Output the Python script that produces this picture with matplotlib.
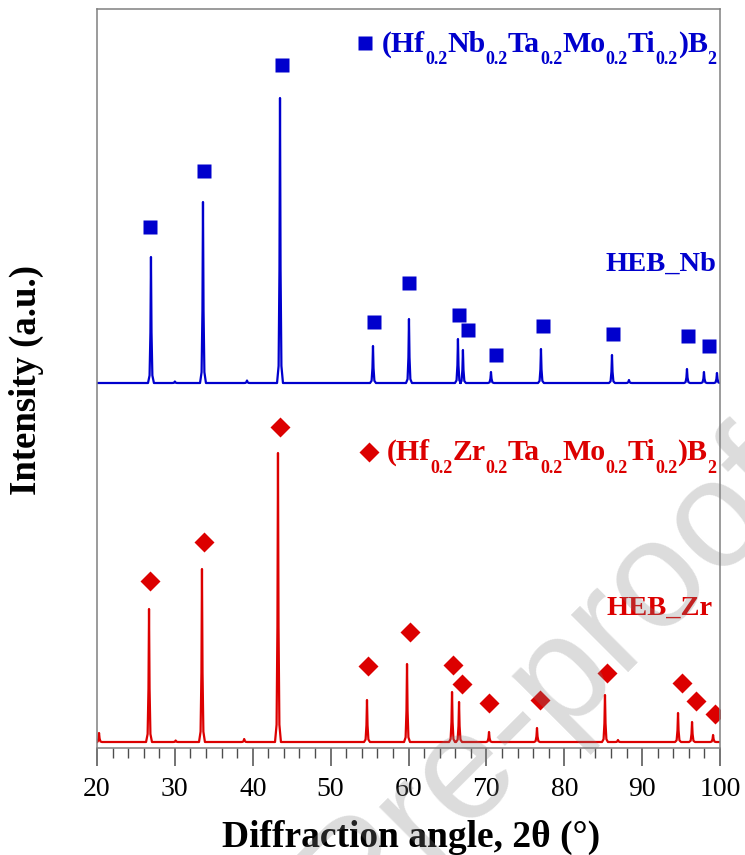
import matplotlib
matplotlib.use("Agg")
import matplotlib.pyplot as plt
from matplotlib.ticker import MultipleLocator
from matplotlib.transforms import offset_copy

# XRD peaks: 2theta (deg) and height above baseline (a.u.)
nb_peak_2theta = [26.93, 30.0, 33.61, 39.26, 43.50, 55.44, 60.06, 66.35, 66.99,
                  70.59, 77.01, 86.13, 88.31, 95.76, 97.94, 99.61]
nb_peak_height = [126, 1.5, 181, 2.5, 285, 37, 64, 44, 33,
                  11, 34, 28, 3, 14, 11, 10]

zr_peak_2theta = [20.26, 26.68, 30.1, 33.48, 38.9, 43.24, 54.67, 59.81, 65.59,
                  66.49, 70.34, 76.50, 85.23, 86.9, 94.61, 96.41, 99.11]
zr_peak_height = [9, 133, 1.5, 173, 3, 289, 42, 78, 50,
                  40, 10, 14, 47, 2, 29, 20, 7]

# phase markers (2theta, intensity)
nb_mark_2theta = [26.81, 33.74, 43.76, 55.57, 60.06, 66.48, 67.64, 71.24, 77.27, 86.26, 95.89, 98.58]
nb_mark_y = [521, 577, 683, 426, 465, 433, 418, 393, 422, 414, 412, 402]
zr_mark_2theta = [26.81, 33.74, 43.50, 54.80, 60.19, 65.71, 66.87, 70.34, 76.89, 85.49, 95.12, 96.92, 99.36]
zr_mark_y = [167, 206, 321, 82, 116, 83, 64, 45, 48, 75, 65, 47, 34]

# phase names as (text, is_subscript) pieces
nb_phase = [("(Hf", 0), ("0.2", 1), ("Nb", 0), ("0.2", 1), ("Ta", 0), ("0.2", 1),
            ("Mo", 0), ("0.2", 1), ("Ti", 0), ("0.2", 1), (")B", 0), ("2", 1)]
zr_phase = [("(Hf", 0), ("0.2", 1), ("Zr", 0), ("0.2", 1), ("Ta", 0), ("0.2", 1),
            ("Mo", 0), ("0.2", 1), ("Ti", 0), ("0.2", 1), (")B", 0), ("2", 1)]

nb_offset = 365
zr_offset = 6

BLUE = "#0000CD"
RED = "#DC0000"

plt.rcParams["font.family"] = ["Liberation Serif", "DejaVu Serif"]

# narrow peak profile (offset in deg, fraction of height)
shape_dx = [-0.38, -0.18, -0.07, 0.0, 0.07, 0.18, 0.38]
shape_f = [0.0, 0.06, 0.4, 1.0, 0.4, 0.06, 0.0]


def trace(pos, height, base):
    xs, ys = [20.0], [base]
    for c, h in sorted(zip(pos, height)):
        for dx, f in zip(shape_dx, shape_f):
            xs.append(c + dx)
            ys.append(base + f * h)
    xs.append(100.0)
    ys.append(base)
    return xs, ys


def formula(ax, x, y, pieces, color):
    renderer = ax.figure.canvas.get_renderer()
    shift = 0.0
    for s, sub in pieces:
        tr = offset_copy(ax.transData, fig=ax.figure, x=shift, y=-9 if sub else 0, units="points")
        t = ax.text(x, y, s, transform=tr, fontsize=13 if sub else 21.5,
                    fontweight="bold", color=color, ha="left", va="baseline")
        shift += t.get_window_extent(renderer).width * 72 / ax.figure.dpi


fig = plt.figure(figsize=(7.45, 8.55), dpi=100)
ax = fig.add_axes([97 / 745, 1 - 748 / 855, 623 / 745, 739 / 855])

x, y = trace(nb_peak_2theta, nb_peak_height, nb_offset)
ax.plot(x, y, color=BLUE, lw=1.6)
x, y = trace(zr_peak_2theta, zr_peak_height, zr_offset)
ax.plot(x, y, color=RED, lw=1.6)

ax.plot(nb_mark_2theta, nb_mark_y, "s", color=BLUE, ms=10.5, mec="none")
ax.plot(zr_mark_2theta, zr_mark_y, "D", color=RED, ms=10.5, mec="none")

# in-plot labels
ax.plot([54.41], [705], "s", color=BLUE, ms=10.5, mec="none")
formula(ax, 56.6, 696, nb_phase, BLUE)
ax.plot([54.93], [296], "D", color=RED, ms=10.5, mec="none")
formula(ax, 57.24, 288, zr_phase, RED)
ax.text(99.5, 477, "HEB_Nb", color=BLUE, fontsize=20.5, fontweight="bold",
        ha="right", va="baseline")
ax.text(99.1, 133, "HEB_Zr", color=RED, fontsize=20.5, fontweight="bold",
        ha="right", va="baseline")

ax.set_xlim(20, 100)
ax.set_ylim(0, 739)
ax.xaxis.set_major_locator(MultipleLocator(10))
ax.xaxis.set_minor_locator(MultipleLocator(2))
ax.tick_params(axis="x", which="major", direction="out", length=13, width=1.1,
               color="0.3", labelsize=20, pad=8)
ax.tick_params(axis="x", which="minor", direction="out", length=7, width=1.0, color="0.3")
ax.tick_params(axis="y", left=False, labelleft=False)
for sp in ax.spines.values():
    sp.set_color("0.5")
    sp.set_linewidth(1.1)

ax.set_xlabel("Diffraction angle, 2θ (°)", fontsize=27, fontweight="bold")
ax.xaxis.set_label_coords(0.504, -0.097)
ax.set_ylabel("Intensity (a.u.)", fontsize=26.5, fontweight="bold")
ax.yaxis.set_label_coords(-0.085, 0.498)

# watermark
fig.text(1.084, 0.423, "Journal Pre-proof", fontsize=110, family="Liberation Sans",
         color="0.5", alpha=0.28, rotation=45, rotation_mode="anchor",
         ha="right", va="baseline", zorder=10)

fig.savefig("out.png", dpi=100)
